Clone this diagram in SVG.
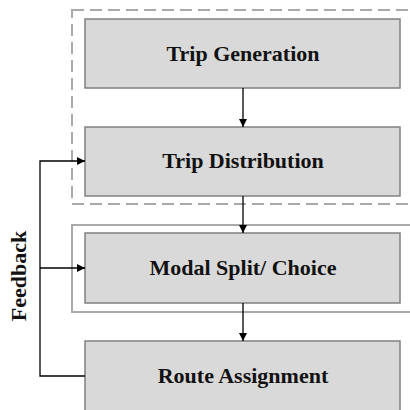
<svg xmlns="http://www.w3.org/2000/svg" width="410" height="410" viewBox="0 0 410 410">
<defs>
<style>
.node rect{fill:#d9d9d9;stroke:#808080;stroke-width:1.5}
.lbl{font-family:"Liberation Serif","DejaVu Serif",serif;font-weight:bold;font-size:22px;fill:#111;text-anchor:middle}
.conn{stroke:#000;stroke-width:1.3;fill:none}
</style>
<marker id="ah" markerWidth="8" markerHeight="8" refX="8" refY="4" orient="auto" markerUnits="userSpaceOnUse">
<path d="M0,0 L8,4 L0,8 Z" fill="#000"/>
</marker>
</defs>
<rect width="410" height="410" fill="#fff"/>
<g id="groups">
<rect x="72" y="10" width="350" height="194" fill="none" stroke="#aaa" stroke-width="2" stroke-dasharray="12,6"/>
<rect x="72" y="225" width="350" height="87" fill="none" stroke="#aaa" stroke-width="2"/>
</g>
<g id="n1" class="node"><rect x="85" y="19" width="315" height="69"/><text class="lbl" x="243" y="61">Trip Generation</text></g>
<g id="n2" class="node"><rect x="85" y="127" width="315" height="69"/><text class="lbl" x="243" y="168">Trip Distribution</text></g>
<g id="n3" class="node"><rect x="85" y="233" width="315" height="70"/><text class="lbl" x="243" y="275">Modal Split/ Choice</text></g>
<g id="n4" class="node"><rect x="85" y="341" width="315" height="80"/><text class="lbl" x="243" y="383">Route Assignment</text></g>
<g id="connectors">
<line class="conn" x1="243" y1="88" x2="243" y2="127" marker-end="url(#ah)"/>
<line class="conn" x1="243" y1="196" x2="243" y2="233" marker-end="url(#ah)"/>
<line class="conn" x1="243" y1="303" x2="243" y2="341" marker-end="url(#ah)"/>
<polyline class="conn" points="85,376 40,376 40,161 85,161" marker-end="url(#ah)"/>
<line class="conn" x1="40" y1="268" x2="85" y2="268" marker-end="url(#ah)"/>
</g>
<text class="lbl" transform="translate(26,276) rotate(-90)">Feedback</text>
</svg>
